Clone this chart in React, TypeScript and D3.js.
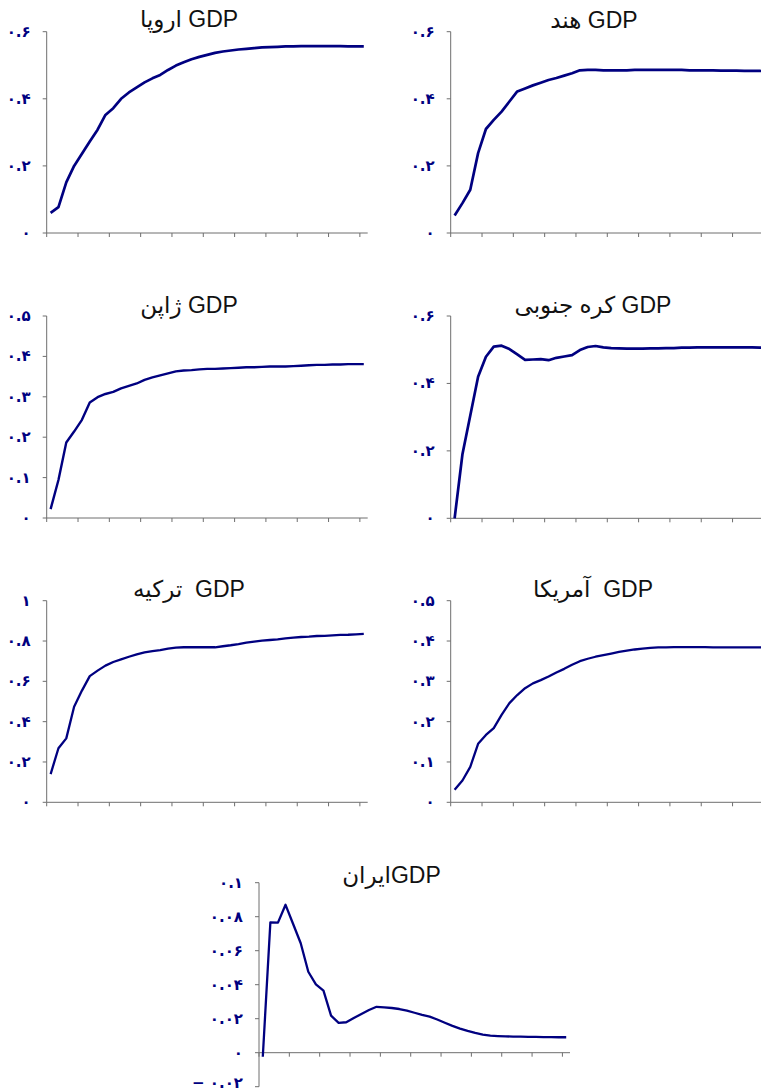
import React from "react";
import * as d3 from "d3";

// ---- data ----
const periods: number[] = Array.from({ length: 41 }, (_, i) => i + 1);

const europe = [0.060, 0.077, 0.151, 0.200, 0.236, 0.273, 0.308, 0.352, 0.372, 0.400, 0.419, 0.434, 0.449, 0.461, 0.471, 0.486, 0.499, 0.509, 0.518, 0.525, 0.531, 0.537, 0.541, 0.544, 0.547, 0.549, 0.551, 0.553, 0.554, 0.555, 0.556, 0.556, 0.557, 0.557, 0.557, 0.557, 0.557, 0.557, 0.556, 0.556, 0.556];
const india = [0.052, 0.089, 0.129, 0.238, 0.310, 0.337, 0.362, 0.392, 0.422, 0.431, 0.440, 0.448, 0.456, 0.462, 0.469, 0.476, 0.485, 0.486, 0.486, 0.485, 0.485, 0.485, 0.485, 0.486, 0.486, 0.486, 0.486, 0.486, 0.486, 0.486, 0.485, 0.485, 0.485, 0.485, 0.484, 0.484, 0.484, 0.483, 0.483, 0.483, 0.482];
const japan = [0.022, 0.094, 0.187, 0.214, 0.243, 0.286, 0.299, 0.307, 0.312, 0.321, 0.327, 0.333, 0.342, 0.348, 0.353, 0.358, 0.363, 0.365, 0.366, 0.368, 0.369, 0.369, 0.370, 0.371, 0.372, 0.373, 0.373, 0.374, 0.375, 0.375, 0.375, 0.376, 0.377, 0.378, 0.379, 0.379, 0.380, 0.380, 0.381, 0.381, 0.381];
const korea = [0.000, 0.190, 0.305, 0.420, 0.479, 0.509, 0.512, 0.502, 0.486, 0.470, 0.471, 0.472, 0.469, 0.476, 0.480, 0.484, 0.499, 0.508, 0.511, 0.507, 0.505, 0.504, 0.503, 0.503, 0.503, 0.504, 0.504, 0.505, 0.505, 0.506, 0.506, 0.507, 0.507, 0.507, 0.507, 0.507, 0.507, 0.507, 0.507, 0.506, 0.506];
const turkey = [0.140, 0.268, 0.317, 0.474, 0.554, 0.626, 0.653, 0.678, 0.696, 0.709, 0.722, 0.734, 0.744, 0.750, 0.755, 0.762, 0.767, 0.769, 0.769, 0.769, 0.769, 0.769, 0.774, 0.779, 0.785, 0.792, 0.797, 0.802, 0.805, 0.808, 0.813, 0.817, 0.820, 0.822, 0.825, 0.826, 0.828, 0.830, 0.831, 0.833, 0.835];
const usa = [0.031, 0.054, 0.088, 0.145, 0.167, 0.184, 0.217, 0.246, 0.266, 0.283, 0.295, 0.303, 0.312, 0.322, 0.331, 0.341, 0.350, 0.356, 0.361, 0.365, 0.369, 0.373, 0.376, 0.379, 0.381, 0.383, 0.384, 0.384, 0.385, 0.385, 0.385, 0.385, 0.385, 0.384, 0.384, 0.384, 0.384, 0.384, 0.384, 0.384, 0.384];
const iran = [-0.0024, 0.0767, 0.0765, 0.087, 0.0757, 0.0644, 0.0476, 0.0402, 0.0365, 0.0218, 0.0175, 0.0179, 0.0204, 0.0228, 0.0251, 0.0270, 0.0267, 0.0263, 0.0257, 0.0247, 0.0235, 0.0222, 0.0212, 0.0195, 0.0176, 0.0158, 0.0142, 0.0128, 0.0116, 0.0106, 0.0100, 0.0098, 0.0096, 0.0095, 0.0094, 0.0093, 0.0093, 0.0092, 0.0092, 0.0091, 0.0091];

const ticks06 = [0, 0.2, 0.4, 0.6];
const ticks05 = [0, 0.1, 0.2, 0.3, 0.4, 0.5];
const ticks10 = [0, 0.2, 0.4, 0.6, 0.8, 1];
const ticksIran = [-0.02, 0, 0.02, 0.04, 0.06, 0.08, 0.1];

const titles = {
  europe: "اروپا GDP",
  india: "هند GDP",
  japan: "ژاپن GDP",
  korea: "کره جنوبی GDP",
  turkey: "ترکیه  GDP",
  usa: "آمریکا  GDP",
  iran: "ایرانGDP",
};

// ---- helpers ----
const faDigits = ["۰", "۱", "۲", "۳", "۴", "۵", "۶", "۷", "۸", "۹"];
function toFa(v: number): string {
  const s = d3.format("~g")(+v.toFixed(4));
  return s.replace(/[0-9]/g, (c) => faDigits[+c]).replace(/[-−]/, "− ");
}

const LINE = "#000080";
const AXIS = "#6e6e6e";
const H = 1092;

type PanelProps = {
  values: number[];
  ticks: number[];
  x0: number;
  x1: number;
  yTop: number;
  yBottom: number;
  title: string;
  titleX: number;
  titleY: number;
  strokeWidth?: number;
};

function Panel({ values, ticks, x0, x1, yTop, yBottom, title, titleX, titleY, strokeWidth = 2.7 }: PanelProps) {
  const x = d3.scaleBand<number>().domain(periods).range([x0, x1]).padding(0);
  const yMin = d3.min(ticks) as number;
  const yMax = d3.max(ticks) as number;
  const y = d3.scaleLinear().domain([yMin, yMax]).range([yBottom, yTop]);
  const cx = (p: number) => (x(p) as number) + x.bandwidth() / 2;
  const line = d3
    .line<number>()
    .x((_, i) => cx(periods[i]))
    .y((d) => y(d));
  const y0 = y(0);
  const xTicks = periods.filter((_, i) => i % 4 === 0).map((p) => x(p) as number);
  return (
    <g>
      <text
        x={titleX}
        y={titleY}
        textAnchor="middle"
        style={{ whiteSpace: "pre" }}
        fontFamily="'Liberation Sans', Arial, 'DejaVu Sans', sans-serif"
        fontSize={23}
        fill="#111"
      >
        {title}
      </text>
      {/* y axis */}
      <line x1={x0} x2={x0} y1={yTop} y2={yBottom} stroke={AXIS} strokeWidth={1} />
      {ticks.map((t) => (
        <g key={t}>
          <line x1={x0 - 4} x2={x0} y1={y(t)} y2={y(t)} stroke={AXIS} strokeWidth={1} />
          <text
            x={x0 - 16}
            y={Math.min(y(t) + 5, H - 4)}
            textAnchor="end"
            fontFamily="'DejaVu Sans', sans-serif"
            fontWeight="bold"
            fontSize={15}
            fill={LINE}
          >
            {toFa(t)}
          </text>
        </g>
      ))}
      {/* x axis */}
      <line x1={x0} x2={x1} y1={y0} y2={y0} stroke={AXIS} strokeWidth={1} />
      {xTicks.map((tx, i) => (
        <line key={i} x1={tx} x2={tx} y1={y0} y2={y0 + 4} stroke={AXIS} strokeWidth={1} />
      ))}
      <path d={line(values) || ""} fill="none" stroke={LINE} strokeWidth={strokeWidth} strokeLinejoin="round" />
    </g>
  );
}

export default function App() {
  return (
    <svg
      width={761}
      height={H}
      style={{ position: "absolute", left: 0, top: 0, background: "#fff" }}
    >
      <rect x={0} y={0} width={761} height={H} fill="#fff" />
      <Panel values={europe} ticks={ticks06} x0={46.7} x1={367.7} yTop={31.7} yBottom={233} title={titles.europe} titleX={189} titleY={27} />
      <Panel values={india} ticks={ticks06} x0={450.7} x1={771.7} yTop={31.7} yBottom={233} title={titles.india} titleX={594} titleY={28} />
      <Panel values={japan} ticks={ticks05} x0={46.7} x1={367.7} yTop={316} yBottom={518} title={titles.japan} titleX={189} titleY={312.5} strokeWidth={2.4} />
      <Panel values={korea} ticks={ticks06} x0={450.7} x1={771.7} yTop={316} yBottom={518.3} title={titles.korea} titleX={593} titleY={312.5} />
      <Panel values={turkey} ticks={ticks10} x0={46.7} x1={367.7} yTop={600.7} yBottom={802.3} title={titles.turkey} titleX={189} titleY={597} strokeWidth={2.3} />
      <Panel values={usa} ticks={ticks05} x0={450.7} x1={771.7} yTop={600.7} yBottom={802.3} title={titles.usa} titleX={593} titleY={596.7} strokeWidth={2.3} />
      <Panel values={iran} ticks={ticksIran} x0={259} x1={570} yTop={882.7} yBottom={1086.7} title={titles.iran} titleX={391.5} titleY={883.3} strokeWidth={2.3} />
    </svg>
  );
}
